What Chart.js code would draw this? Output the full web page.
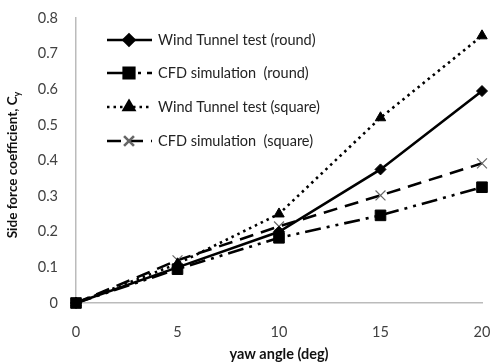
<!DOCTYPE html>
<html>
<head>
<meta charset="utf-8">
<script src="https://cdn.jsdelivr.net/npm/chart.js@4.4.1/dist/chart.umd.min.js"></script>
<style>
  html, body { margin: 0; padding: 0; background: #fff; }
  #wrap { width: 491px; height: 363px; }
</style>
</head>
<body>
<div id="wrap"><canvas id="sideForce" width="491" height="363"></canvas></div>
<script>
// yaw angle (deg)
const yawAngles = [0, 5, 10, 15, 20];
const yTicks = [0, 0.1, 0.2, 0.3, 0.4, 0.5, 0.6, 0.7, 0.8];

// side force coefficient Cy
const windTunnelRound = [0, 0.10, 0.20, 0.375, 0.595];
const cfdRound = [0, 0.095, 0.183, 0.246, 0.325];
const windTunnelSquare = [0, 0.11, 0.25, 0.52, 0.75];
const cfdSquare = [0, 0.12, 0.215, 0.302, 0.392];

const seriesNames = [
  'Wind Tunnel test (round)',
  'CFD simulation  (round)',
  'Wind Tunnel test (square)',
  'CFD simulation  (square)'
];

const FONT = 'Lato, "Liberation Sans", sans-serif';

const ds = (label, values, extra) => Object.assign({
  label: label,
  data: values.map((v, i) => ({ x: yawAngles[i], y: v })),
  borderColor: '#000',
  backgroundColor: '#000',
  borderWidth: 2.6,
  tension: 0,
  clip: false,
  pointBorderWidth: 1
}, extra);

// drawn in reverse so the round series sit on top
const datasets = [
  ds(seriesNames[0], windTunnelRound, { pointStyle: 'rectRot', pointRadius: 5.5 }),
  ds(seriesNames[1], cfdRound, { pointStyle: 'rect', pointRadius: 7.5, borderDash: [16, 6, 3, 6, 3, 6] }),
  ds(seriesNames[2], windTunnelSquare, { pointStyle: 'triangle', pointRadius: 6, borderDash: [2.5, 4] }),
  ds(seriesNames[3], cfdSquare, { pointStyle: 'crossRot', pointRadius: 7, borderDash: [14, 8],
    pointBorderColor: '#666', pointBorderWidth: 1.2 })
];

// legend drawn inside the plot, with line sample + marker
const innerLegend = {
  id: 'innerLegend',
  afterDatasetsDraw(chart) {
    const c = chart.ctx;
    const rows = [40, 73, 107, 141];
    chart.data.datasets.forEach((d, i) => {
      const y = rows[i];
      c.save();
      c.strokeStyle = d.borderColor;
      c.lineWidth = d.borderWidth;
      c.setLineDash(d.borderDash || []);
      c.beginPath();
      c.moveTo(107, y);
      c.lineTo(152, y);
      c.stroke();
      c.setLineDash([]);
      c.fillStyle = '#000';
      c.strokeStyle = d.pointBorderColor || '#000';
      Chart.helpers.drawPoint(c, {
        pointStyle: d.pointStyle,
        radius: d.pointRadius,
        borderWidth: d.pointBorderWidth
      }, 129, y);
      c.restore();
      c.save();
      c.font = '14.5px ' + FONT;
      c.fillStyle = '#222';
      c.textBaseline = 'middle';
      c.fillText(d.label, 158, y);
      c.restore();
    });
  }
};

// rotated y title with subscript y
const yTitle = {
  id: 'yTitle',
  afterDraw(chart) {
    const c = chart.ctx;
    c.save();
    c.translate(17, 165);
    c.rotate(-Math.PI / 2);
    const main = 'Side force coefficient, C';
    c.font = 'bold 13.5px ' + FONT;
    const w1 = c.measureText(main).width;
    c.font = 'bold 9px ' + FONT;
    const w2 = c.measureText('y').width;
    const start = -(w1 + w2) / 2;
    c.fillStyle = '#111';
    c.textBaseline = 'alphabetic';
    c.font = 'bold 13.5px ' + FONT;
    c.fillText(main, start, 0);
    c.font = 'bold 9px ' + FONT;
    c.fillText('y', start + w1, 3);
    c.restore();
  }
};

new Chart(document.getElementById('sideForce'), {
  type: 'line',
  data: { datasets: datasets },
  options: {
    responsive: false,
    animation: false,
    layout: { padding: { top: 18, right: 9, left: 0, bottom: 0 } },
    plugins: { legend: { display: false }, tooltip: { enabled: false } },
    scales: {
      x: {
        type: 'linear',
        min: 0, max: 20,
        afterBuildTicks: axis => { axis.ticks = yawAngles.map(v => ({ value: v })); },
        grid: { display: false, drawTicks: false },
        border: { color: '#bbb', width: 1.5 },
        ticks: { color: '#404040', font: { family: FONT, size: 14.5 }, padding: 21, maxRotation: 0 },
        title: { display: true, text: 'yaw angle (deg)', color: '#111',
                 font: { family: FONT, size: 14.5, weight: 'bold' }, padding: { top: 0, bottom: 0 } },
        afterFit: axis => { axis.height = 60; axis.paddingLeft = 0; axis.paddingRight = 0; }
      },
      y: {
        min: 0, max: 0.8,
        afterBuildTicks: axis => { axis.ticks = yTicks.map(v => ({ value: v })); },
        grid: { display: false, drawTicks: false },
        border: { color: '#bbb', width: 1.5 },
        ticks: { color: '#404040', font: { family: FONT, size: 14.5 }, padding: 18,
                 callback: v => v === 0 ? '0' : v.toFixed(1) },
        afterFit: axis => { axis.width = 76; axis.paddingTop = 0; axis.paddingBottom = 0; }
      }
    }
  },
  plugins: [innerLegend, yTitle]
});
</script>
</body>
</html>
